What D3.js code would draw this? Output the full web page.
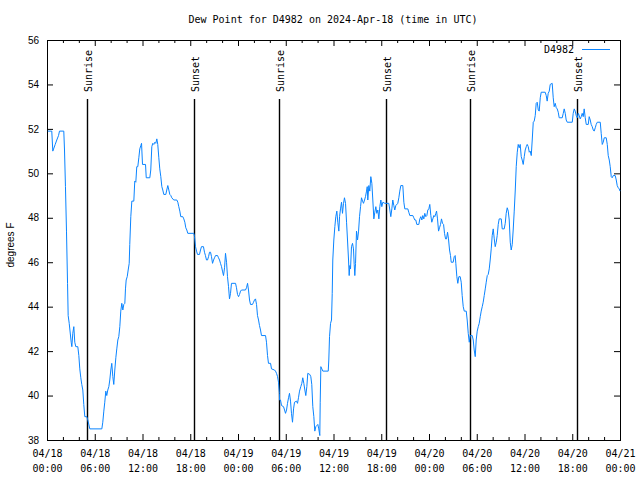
<!DOCTYPE html>
<html><head><meta charset="utf-8">
<script src="https://cdn.jsdelivr.net/npm/d3@7"></script>
<style>body{margin:0;background:#fff}</style>
</head><body>
<svg id="chart" width="640" height="480"></svg>
<script>
// ---- data (hours since 2024-04-18 00:00 UTC, dew point °F) ----
const chartTitle = "Dew Point for D4982 on 2024-Apr-18 (time in UTC)";
const yAxisTitle = "degrees F";
const seriesName = "D4982";
const yTicks = [38, 40, 42, 44, 46, 48, 50, 52, 54, 56];
const xTickHours = [0, 6, 12, 18, 24, 30, 36, 42, 48, 54, 60, 66, 72];
const xTickLabels = ["04/18 00:00","04/18 06:00","04/18 12:00","04/18 18:00","04/19 00:00","04/19 06:00","04/19 12:00","04/19 18:00","04/20 00:00","04/20 06:00","04/20 12:00","04/20 18:00","04/21 00:00"];
const sunriseHours = [5.0, 29.12, 53.1];
const sunsetHours = [18.45, 42.57, 66.58];
const observations = [
[0.10,51.9],[0.60,51.9],[0.73,51.0],[1.03,51.3],[1.23,51.5],[1.45,51.7],[1.57,51.9],[2.11,51.9],[2.20,51.05],[2.32,49.4],[2.45,47.4],[2.58,45.05],[2.66,43.6],[2.79,43.25],[3.04,42.4],[3.12,42.2],[3.24,42.8],[3.37,43.1],[3.49,42.4],[3.62,42.2],[3.87,42.2],[4.00,41.8],[4.12,41.2],[4.25,40.8],[4.37,40.5],[4.50,40.25],[4.62,39.6],[4.75,39.05],[5.00,39.05],[5.13,38.9],[5.38,38.5],[6.89,38.5],[7.01,38.8],[7.14,39.3],[7.26,39.7],[7.39,40.2],[7.51,40.0],[7.64,40.25],[7.77,40.4],[7.89,40.7],[8.02,41.15],[8.14,41.45],[8.27,40.85],[8.39,40.5],[8.52,41.15],[8.65,41.7],[8.77,42.1],[8.90,42.5],[9.02,42.65],[9.15,43.1],[9.27,43.8],[9.40,44.15],[9.53,43.85],[9.65,44.1],[9.78,44.15],[9.86,44.8],[9.95,45.2],[10.08,45.35],[10.20,45.65],[10.33,45.95],[10.40,46.8],[10.53,48.05],[10.66,48.75],[10.91,48.75],[11.03,49.65],[11.16,49.6],[11.28,50.3],[11.41,50.3],[11.54,50.7],[11.66,51.1],[11.79,51.25],[11.88,51.35],[12.00,50.4],[12.38,50.4],[12.47,49.8],[12.92,49.8],[13.04,50.15],[13.17,51.2],[13.29,51.35],[13.42,51.3],[13.55,51.4],[13.67,51.35],[13.80,51.55],[13.92,51.3],[14.05,50.7],[14.17,50.2],[14.30,49.85],[14.43,49.4],[14.55,49.25],[14.68,49.05],[14.93,49.05],[15.05,49.25],[15.18,49.45],[15.31,49.25],[15.43,49.05],[15.56,49.0],[15.68,48.9],[15.93,48.8],[16.31,48.8],[16.44,48.7],[16.56,48.5],[16.69,48.3],[16.81,48.05],[17.06,48.05],[17.19,47.95],[17.32,47.8],[17.44,47.55],[17.57,47.45],[17.69,47.3],[18.45,47.3],
[18.54,47.15],[18.66,46.7],[18.79,46.5],[18.91,46.35],[19.16,46.35],[19.29,46.55],[19.41,46.7],[19.66,46.7],[19.79,46.45],[19.91,46.3],[20.04,46.1],[20.17,46.1],[20.30,46.25],[20.42,46.45],[20.55,46.45],[20.67,46.25],[20.80,45.95],[20.93,46.1],[21.05,46.2],[21.18,46.3],[21.43,46.3],[21.55,46.2],[21.68,46.1],[21.80,45.95],[21.93,45.8],[22.05,45.6],[22.18,45.4],[22.31,45.75],[22.43,46.4],[22.56,46.0],[22.68,45.35],[22.81,44.9],[22.93,44.35],[23.06,44.6],[23.18,45.05],[23.69,45.05],[23.81,44.85],[23.94,44.55],[24.07,44.45],[24.19,44.55],[24.32,44.7],[24.44,44.75],[24.94,44.75],[25.07,44.85],[25.20,45.05],[25.32,44.75],[25.45,44.3],[25.57,44.1],[25.82,44.1],[25.95,44.2],[26.07,44.3],[26.20,44.35],[26.33,44.1],[26.45,43.6],[26.58,43.4],[26.70,43.15],[26.83,42.95],[26.95,42.7],[27.46,42.7],[27.58,42.4],[27.71,41.8],[27.83,41.45],[28.09,41.45],[28.21,41.2],[28.59,41.15],[28.71,41.1],[28.84,41.0],[28.97,40.85],[29.09,40.6],[29.20,40.1],[29.22,39.8],[29.34,39.8],[29.47,39.55],[29.72,39.5],[29.85,39.35],[29.97,39.2],[30.10,39.35],[30.22,39.65],[30.35,39.9],[30.47,40.1],[30.60,39.75],[30.72,39.2],[30.85,38.8],[30.98,39.4],[31.10,39.7],[31.35,39.75],[31.48,39.65],[31.60,39.9],[31.73,40.2],
[31.89,40.4],[32.02,40.55],[32.14,40.8],[32.27,40.55],[32.40,40.25],[32.52,40.0],[32.65,40.4],[32.77,41.0],[33.02,40.95],[33.15,40.85],[33.27,40.5],[33.40,39.5],[33.53,39.05],[33.65,38.4],[33.78,38.6],[33.90,38.65],[34.03,38.7],[34.15,38.5],[34.28,38.2],[34.33,39.7],[34.41,41.3],[34.66,41.1],[35.34,41.1],[35.41,41.6],[35.50,42.65],[35.63,43.25],[35.75,43.4],[35.84,44.6],[35.91,46.1],[36.04,47.0],[36.17,47.6],[36.29,48.05],[36.42,48.3],[36.54,47.8],[36.67,47.4],[36.76,48.05],[36.88,48.4],[37.01,48.7],[37.13,48.2],[37.26,48.65],[37.38,48.9],[37.51,48.65],[37.64,47.8],[37.76,47.0],[37.89,46.1],[37.97,45.4],[38.05,45.85],[38.14,45.7],[38.26,46.7],[38.39,46.85],[38.51,46.6],[38.60,45.9],[38.68,45.4],[38.77,45.95],[38.89,47.4],[39.02,47.0],[39.15,47.4],[39.27,48.05],[39.40,48.5],[39.52,48.9],[39.65,48.75],[39.77,48.65],[39.90,48.8],[40.02,48.95],[40.15,49.2],[40.24,49.4],[40.31,48.8],[40.44,49.45],[40.56,49.2],[40.69,49.85],[40.82,49.55],[40.94,48.8],[41.07,47.95],[41.19,48.25],[41.32,48.5],[41.44,48.2],[41.57,48.35],[41.70,47.95],[41.82,48.5],[41.95,48.8],[42.07,48.5],[42.20,48.7],[42.45,48.65],[42.95,48.65],[43.08,48.35],[43.20,48.05],[43.33,48.4],[43.45,48.8],[43.58,48.55],[43.70,48.35],[43.83,48.55],[44.08,48.65],[44.21,48.9],[44.33,49.2],[44.46,49.45],[44.71,49.45],[44.84,48.7],[44.96,48.4],[45.34,48.4],[45.46,48.25],[45.59,48.1],[45.97,48.1],[46.09,48.0],[46.22,47.9],[46.34,47.9],[46.47,47.7],[46.72,47.7],[46.85,47.95],[46.97,48.05],[47.10,47.9],[47.22,48.1],[47.35,47.95],[47.47,48.2],[47.60,48.05],[47.73,48.1],[47.85,48.35],[47.98,48.4],[48.10,48.6],[48.23,48.1],[48.35,47.8],[48.48,47.95],[48.61,48.1],[48.73,48.05],[48.86,48.2],[48.95,48.3],[49.07,47.95],[49.20,47.4],[49.32,47.55],[49.45,47.7],[49.57,47.95],[49.70,47.75],[49.83,47.7],[49.95,47.3],[50.08,47.05],[50.20,47.05],[50.33,47.35],[50.45,47.05],[50.58,46.55],[50.70,46.3],[50.79,46.0],[51.04,46.0],[51.17,46.25],[51.29,46.3],[51.37,45.95],[51.50,45.35],[51.62,45.05],[51.75,45.35],[51.92,45.35],[52.05,45.1],[52.17,44.5],[52.30,44.0],[52.43,43.8],[52.68,43.8],[52.80,43.4],[52.93,42.8],[53.06,42.4],[53.18,42.7],[53.43,42.7],[53.56,42.5],[53.68,42.05],[53.81,41.75],[53.93,42.5],[54.06,42.9],[54.19,43.1],[54.31,43.25],[54.44,43.55],[54.56,43.8],[54.69,44.0],[54.81,44.2],[54.94,44.5],[55.07,44.8],[55.19,45.1],[55.32,45.4],[55.44,45.45],[55.57,45.7],[55.69,46.1],[55.82,46.6],[55.94,47.2],[56.07,47.5],[56.20,47.05],[56.32,46.7],[56.45,46.9],[56.57,47.2],[56.70,47.7],[56.82,47.95],[57.08,47.95],[57.20,47.5],[57.45,47.5],[57.58,47.75],[57.70,48.2],[57.83,48.45],[57.96,48.3],[58.08,47.9],[58.21,46.9],[58.33,46.55],[58.46,46.8],[58.58,47.45],[58.71,48.3],[58.84,49.25],[58.96,50.3],[59.09,50.95],[59.21,51.3],[59.34,51.15],[59.46,51.3],[59.59,50.75],[59.71,50.6],[59.84,50.4],[59.97,50.75],[60.09,51.05],[60.22,51.2],[60.34,51.3],[60.47,51.2],[60.60,50.95],[60.72,51.0],[60.85,50.8],[60.97,51.5],[61.10,52.3],[61.22,52.35],[61.35,52.6],[61.47,53.15],[61.60,53.2],[61.73,52.85],[61.85,52.8],[61.98,53.4],[62.10,53.65],[62.60,53.65],[62.73,53.5],[62.85,53.25],[62.98,53.6],[63.11,53.7],[63.23,54.0],[63.48,54.05],[63.61,53.4],[63.73,53.0],[63.86,53.15],[63.99,52.95],[64.11,52.9],[64.24,52.75],[64.36,52.5],[64.74,52.5],[64.87,52.7],[64.99,52.9],[65.12,52.7],[65.24,52.4],[65.37,52.3],[66.00,52.3],[66.12,52.7],[66.25,52.9],[66.37,52.8],[66.50,52.6],[66.63,52.5],[66.75,52.7],[66.88,52.6],[67.00,52.45],[67.13,52.55],[67.25,52.7],[67.38,52.55],[67.50,52.9],[67.63,52.5],[67.76,52.2],[68.01,52.2],[68.13,52.55],[68.26,52.4],[68.38,52.2],[68.51,52.1],[68.64,51.95],[68.76,51.9],[68.89,52.05],[69.01,52.2],[69.14,52.3],[69.52,52.3],[69.64,51.8],[69.77,51.3],[69.89,51.4],[70.02,51.6],[70.27,51.6],[70.40,51.3],[70.52,50.8],[70.65,50.6],[70.77,50.3],[70.90,49.85],[71.02,49.8],[71.15,49.9],[71.40,49.9],[71.53,49.7],[71.65,49.45],[71.78,49.35],[71.90,49.3],[72.0,49.2]
];

// ---- drawing ----
const MONO = "'DejaVu Sans Mono', 'Liberation Mono', monospace";
const SANS = "'Liberation Sans', Arial, sans-serif";
const lineColor = "#0a84ff";
const svg = d3.select("#chart");
const L = 47, R = 620, T = 40, B = 440;
const x = d3.scaleLinear().domain([0, 72]).range([L, R]);
const y = d3.scaleLinear().domain([38, 56]).range([B, T]);

// minor x ticks (bottom + top)
const minorHours = d3.range(0, 73, 2).filter(h => h % 6 !== 0);
svg.append("g").attr("transform", `translate(0,${B})`)
  .call(d3.axisBottom(x).tickValues(minorHours).tickSize(-3).tickFormat(""))
  .call(g => g.select(".domain").remove());
svg.append("g").attr("transform", `translate(0,${T})`)
  .call(d3.axisTop(x).tickValues(minorHours).tickSize(-3).tickFormat(""))
  .call(g => g.select(".domain").remove());

// major x ticks
const gx = svg.append("g").attr("transform", `translate(0,${B})`)
  .call(d3.axisBottom(x).tickValues(xTickHours).tickSize(-6).tickFormat((d, i) => xTickLabels[i]))
  .call(g => g.select(".domain").remove());
gx.selectAll("text").each(function(d, i) {
  const t = d3.select(this);
  const parts = xTickLabels[i].split(" ");
  t.text(null).attr("dy", null).attr("y", 17)
    .attr("font-family", MONO).attr("font-size", 10).attr("fill", "#000");
  t.append("tspan").attr("x", 0).text(parts[0]);
  t.append("tspan").attr("x", 0).attr("dy", 15).text(parts[1]);
});
svg.append("g").attr("transform", `translate(0,${T})`)
  .call(d3.axisTop(x).tickValues(xTickHours).tickSize(-6).tickFormat(""))
  .call(g => g.select(".domain").remove());

// y ticks
const gy = svg.append("g").attr("transform", `translate(${L},0)`)
  .call(d3.axisLeft(y).tickValues(yTicks).tickSize(-6).tickPadding(8).tickFormat(d3.format("d")))
  .call(g => g.select(".domain").remove());
gy.selectAll("text").attr("font-family", SANS).attr("font-size", 10).attr("fill", "#000");
svg.append("g").attr("transform", `translate(${R},0)`)
  .call(d3.axisRight(y).tickValues(yTicks).tickSize(-6).tickFormat(""))
  .call(g => g.select(".domain").remove());
svg.selectAll(".tick line").attr("stroke", "#000");

// frame
svg.append("rect").attr("x", L + 0.5).attr("y", T + 0.5)
  .attr("width", R - L).attr("height", B - T)
  .attr("fill", "none").attr("stroke", "#000").attr("stroke-width", 1);

// sunrise / sunset markers
const events = sunriseHours.map(h => ({h, label: "Sunrise"}))
  .concat(sunsetHours.map(h => ({h, label: "Sunset"})));
const ev = svg.append("g");
events.forEach(e => {
  const xp = Math.round(x(e.h)) + 0.5;
  ev.append("line").attr("x1", xp).attr("x2", xp).attr("y1", 99).attr("y2", B)
    .attr("stroke", "#000").attr("stroke-width", 1.4);
  ev.append("text").attr("transform", `translate(${xp + 4.5},92) rotate(-90)`)
    .attr("font-family", MONO).attr("font-size", 10).attr("fill", "#000")
    .text(e.label);
});

// data line
svg.append("path").datum(observations)
  .attr("fill", "none").attr("stroke", lineColor).attr("stroke-width", 1)
  .attr("d", d3.line().x(d => x(d[0])).y(d => y(d[1])));

// title
svg.append("text").attr("x", 333).attr("y", 23).attr("text-anchor", "middle")
  .attr("font-family", MONO).attr("font-size", 10).attr("fill", "#000").text(chartTitle);

// y axis title
svg.append("text").attr("transform", "translate(14,245) rotate(-90)").attr("text-anchor", "middle")
  .attr("font-family", SANS).attr("font-size", 10).attr("fill", "#000").text(yAxisTitle);

// legend
svg.append("text").attr("x", 574).attr("y", 53).attr("text-anchor", "end")
  .attr("font-family", MONO).attr("font-size", 10).attr("fill", "#000").text(seriesName);
svg.append("line").attr("x1", 582).attr("x2", 610).attr("y1", 49.5).attr("y2", 49.5)
  .attr("stroke", lineColor).attr("stroke-width", 1);
</script>
</body></html>
